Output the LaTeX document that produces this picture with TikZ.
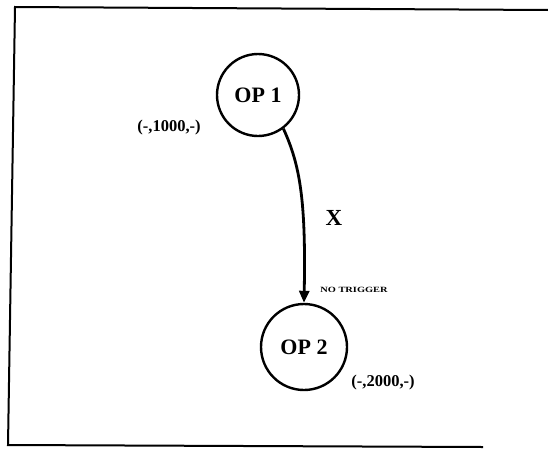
\documentclass[tikz,border=0pt]{standalone}
\usepackage{fontspec}
\setmainfont{Liberation Serif}
\usetikzlibrary{arrows.meta}
\begin{document}
\begin{tikzpicture}[x=1pt,y=-1pt,
  opnode/.style={circle,draw,line width=2.4pt,inner sep=0pt,font=\fontsize{22}{24}\selectfont\bfseries},
  coordlabel/.style={inner sep=0pt,font=\fontsize{16.5}{18}\selectfont\bfseries},
  frameline/.style={line width=2pt},
  flow/.style={line width=2.8pt,-{Triangle[length=12pt,width=10pt]}}]
\useasboundingbox (0,0) rectangle (548,450);
\coordinate (tl) at (15,7);
\coordinate (tr) at (548,10);
\coordinate (bl) at (8,445);
\coordinate (br) at (483,447);
\draw[frameline] (tr) -- (tl) -- (bl) -- (br);
\node[opnode,minimum size=82pt] (op1) at (258,95) {OP 1};
\node[opnode,minimum size=86pt] (op2) at (304,347) {OP 2};
\draw[flow] (op1.-53) .. controls (300,165) and (306,200) .. (op2.north);
\node[coordlabel] (l1) at (169,128) {(-,1000,-)};
\node[coordlabel] (l2) at (383,383) {(-,2000,-)};
\node[inner sep=0pt,font=\fontsize{23}{25}\selectfont\bfseries] (x) at (334,218) {X};
\node[inner sep=0pt,font=\fontsize{8}{9}\selectfont\bfseries,xscale=1.3] (nt) at (354,290) {NO TRIGGER};
\end{tikzpicture}
\end{document}
